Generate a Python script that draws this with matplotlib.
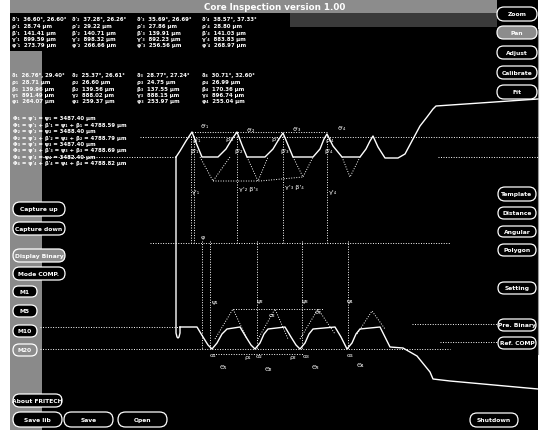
import matplotlib
matplotlib.use("Agg")
import matplotlib.pyplot as plt
from matplotlib.patches import FancyBboxPatch, Rectangle

# ---------------- data ----------------
title = "Core Inspection version 1.00"

# measured profile (screen coordinates of the inspection view)
upper_x = [176, 180, 186, 192, 197, 202, 218, 226, 232, 237, 242, 247, 265, 273, 279, 283, 288, 293, 313, 320, 324, 327, 333, 342, 360, 366, 370, 373, 378, 385, 398, 405, 413, 420, 427, 433, 436, 480, 538]
upper_y = [158, 152, 142, 133, 146, 158, 158, 150, 140, 133, 146, 158, 158, 150, 140, 134, 146, 158, 158, 150, 140, 135, 147, 158, 158, 150, 142, 137, 148, 159, 159, 155, 140, 127, 118, 110, 107, 104, 100]
wall_x = [176, 176, 177, 178, 179, 180, 180]
wall_y = [158, 334, 338, 339, 338, 334, 328]
lower_x = [180, 197, 203, 208, 212, 217, 222, 227, 240, 246, 251, 255, 260, 264, 268, 285, 291, 296, 300, 305, 309, 313, 335, 341, 345, 347, 352, 356, 360, 380, 386, 390, 403, 417, 430, 433, 450, 538]
lower_y = [328, 328, 338, 346, 350, 344, 335, 330, 328, 338, 346, 350, 344, 335, 330, 328, 338, 346, 350, 344, 335, 330, 328, 338, 346, 350, 344, 335, 330, 328, 340, 348, 349, 357, 373, 380, 382, 390]

# dotted construction lines: (x list, y list)
hlines = [
    ([140, 538], [138, 138]),
    ([192, 327], [133, 133]),
    ([43, 176], [158, 158]),
    ([438, 538], [158, 158]),
    ([213, 260, 303], [182, 182, 178]),
    ([150, 450], [244, 244]),
    ([40, 180], [328, 328]),
    ([412, 498], [325, 325]),
    ([40, 450], [350, 350]),
    ([440, 498], [343, 343]),
    ([233, 323], [310, 310]),
    ([213, 303], [355, 355]),
]
vee_x = [[200, 213, 230], [247, 258, 268], [293, 303, 313], [342, 350, 360],
         [215, 233, 247], [258, 275, 288], [300, 318, 335], [357, 372, 385]]
vee_y = [[158, 182, 158], [158, 182, 158], [158, 178, 158], [158, 178, 158],
         [340, 310, 340], [340, 310, 340], [340, 310, 335], [335, 312, 330]]
vert_upper_x = [191, 194, 237, 283, 327]
vert_upper_y = [137, 244]
vert_lower_x = [202, 210, 257, 302, 348]
vert_lower_y = [242, 350]

block1 = [
    ["ϑ'₁  36.60°, 26.60°", "ρ'₁  28.74 µm", "β'₁  141.41 µm", "γ'₁  899.59 µm", "φ'₁  273.79 µm"],
    ["ϑ'₂  37.28°, 26.26°", "ρ'₂  29.22 µm", "β'₂  140.71 µm", "γ'₂  898.32 µm", "φ'₂  266.66 µm"],
    ["ϑ'₃  35.69°, 26.69°", "ρ'₃  27.86 µm", "β'₃  139.91 µm", "γ'₃  892.23 µm", "φ'₃  256.56 µm"],
    ["ϑ'₄  38.57°, 37.33°", "ρ'₄  28.80 µm", "β'₄  141.03 µm", "γ'₄  883.83 µm", "φ'₄  268.97 µm"],
]
block2 = [
    ["ϑ₁  26.76°, 29.40°", "ρ₁  28.71 µm", "β₁  139.96 µm", "γ₁  891.49 µm", "φ₁  264.07 µm"],
    ["ϑ₂  25.37°, 26.61°", "ρ₂  26.60 µm", "β₂  139.56 µm", "γ₂  888.02 µm", "φ₂  259.37 µm"],
    ["ϑ₃  28.77°, 27.24°", "ρ₃  24.75 µm", "β₃  137.55 µm", "γ₃  888.15 µm", "φ₃  253.97 µm"],
    ["ϑ₄  30.71°, 32.60°", "ρ₄  26.99 µm", "β₄  170.36 µm", "γ₄  896.74 µm", "φ₄  255.04 µm"],
]
formulas = [
    "Φ₁ = ψ'₁ = ψ₁ = 3487.40 µm",
    "Φ₁ = ψ'₁ + β'₁ = ψ₁ + β₁ = 4788.59 µm",
    "Φ₂ = ψ'₂ = ψ₂ = 3488.40 µm",
    "Φ₂ = ψ'₂ + β'₂ = ψ₂ + β₂ = 4788.79 µm",
    "Φ₃ = ψ'₃ = ψ₃ = 3487.40 µm",
    "Φ₃ = ψ'₃ + β'₃ = ψ₃ + β₃ = 4788.69 µm",
    "Φ₄ = ψ'₄ = ψ₄ = 3482.40 µm",
    "Φ₄ = ψ'₄ + β'₄ = ψ₄ + β₄ = 4788.82 µm",
]

# buttons: label, x0, y0, x1, y1, highlighted
buttons = [
    ("Zoom", 497, 8, 537, 22, False),
    ("Pan", 497, 27, 537, 40, True),
    ("Adjust", 497, 47, 537, 60, False),
    ("Calibrate", 497, 67, 537, 80, False),
    ("Fit", 497, 86, 537, 100, False),
    ("Template", 498, 188, 536, 202, False),
    ("Distance", 498, 208, 536, 220, False),
    ("Angular", 498, 227, 536, 238, False),
    ("Polygon", 498, 245, 536, 257, False),
    ("Setting", 498, 283, 536, 295, False),
    ("Pre. Binary", 498, 320, 536, 332, False),
    ("Ref. COMP", 498, 338, 536, 350, False),
    ("Shutdown", 470, 414, 518, 428, False),
    ("Capture up", 13, 203, 65, 217, False),
    ("Capture down", 13, 223, 65, 236, False),
    ("Display Binary", 13, 250, 65, 263, True),
    ("Mode COMP.", 13, 268, 65, 281, False),
    ("M1", 13, 287, 37, 298, False),
    ("M5", 13, 306, 37, 318, False),
    ("M10", 13, 326, 37, 338, False),
    ("M20", 13, 345, 37, 357, True),
    ("About FRITECH", 13, 395, 62, 408, False),
    ("Save lib", 13, 413, 62, 428, False),
    ("Save", 64, 413, 113, 428, False),
    ("Open", 118, 413, 167, 428, False),
]

labels = [
    ("ϑ'₁", 205, 127), ("ϑ'₂", 251, 131), ("ϑ'₃", 297, 130), ("ϑ'₄", 342, 129),
    ("ρ'₁", 197, 141), ("ρ'₂", 230, 140), ("ρ'₃", 276, 140), ("ρ'₄", 330, 141),
    ("β'₁", 195, 152), ("β'₂", 239, 152), ("β'₃", 285, 152), ("β'₄", 329, 152),
    ("γ'₁", 196, 193), ("γ'₂ β'₃", 248, 190), ("γ'₃ β'₄", 294, 188), ("γ'₄", 333, 193),
    ("φ", 203, 238),
    ("ψ₁", 215, 303), ("ψ₂", 260, 302), ("ψ₃", 305, 302), ("ψ₄", 350, 302),
    ("σ₂", 272, 316), ("σ₃", 318, 313),
    ("α₁", 213, 356), ("α₂", 259, 357), ("α₃", 306, 357), ("α₄", 350, 356),
    ("ρ₁", 248, 358), ("ρ₂", 293, 358),
    ("Θ₁", 223, 368), ("Θ₂", 268, 370), ("Θ₃", 315, 368), ("Θ₄", 360, 366),
]

# ---------------- drawing ----------------
W, H = 542, 431
fig = plt.figure(figsize=(W / 100, H / 100), dpi=100, facecolor="white")
ax = fig.add_axes([0, 0, 1, 1])
ax.set_xlim(0, W)
ax.set_ylim(H, 0)
ax.axis("off")

ax.add_patch(Rectangle((10, 0), 528, H, facecolor="black", edgecolor="none", zorder=0))
ax.add_patch(Rectangle((10, 0), 487, 14, facecolor="#8c8c8c", edgecolor="none", zorder=0.5))
ax.add_patch(Rectangle((290, 14), 207, 14, facecolor="#3a3a3a", edgecolor="none", zorder=0.5))
ax.add_patch(Rectangle((10, 52), 32, H - 52, facecolor="#8a8a8a", edgecolor="none", zorder=0.5))
ax.plot([538, 538], [30, 355], color="#9a9a9a", lw=0.8, zorder=1)

ax.text(275, 7, title, color="white", fontsize=6.3, fontweight="bold",
        ha="center", va="center", zorder=5)

dot = dict(color="white", lw=0.7, ls=(0, (1, 1.6)), zorder=2)
for xs, ys in hlines:
    ax.plot(xs, ys, **dot)
for xs, ys in zip(vee_x, vee_y):
    ax.plot(xs, ys, **dot)
for x in vert_upper_x:
    ax.plot([x, x], vert_upper_y, **dot)
for x in vert_lower_x:
    ax.plot([x, x], vert_lower_y, **dot)

prof = dict(color="white", lw=1.0, zorder=3, solid_joinstyle="round")
ax.plot(upper_x, upper_y, **prof)
ax.plot(wall_x, wall_y, **prof)
ax.plot(lower_x, lower_y, **prof)

col_x = [12, 72, 137, 202]
rows1 = [20, 26.5, 33, 39.5, 46]
rows2 = [76, 82.5, 89, 95.5, 102]
tf = dict(color="white", fontsize=3.9, fontweight="bold", ha="left", va="center", zorder=5)
for cx, col in zip(col_x, block1):
    for ry, s in zip(rows1, col):
        ax.text(cx, ry, s, **tf)
for cx, col in zip(col_x, block2):
    for ry, s in zip(rows2, col):
        ax.text(cx, ry, s, **tf)
for i, s in enumerate(formulas):
    ax.text(13, 119 + i * 6.4, s, **tf)

for name, x0, y0, x1, y1, hl in buttons:
    h = y1 - y0
    ax.add_patch(FancyBboxPatch((x0, y0), x1 - x0, h,
                                boxstyle="round,pad=0,rounding_size=%.1f" % (h / 2),
                                facecolor="#8c8c8c" if hl else "black",
                                edgecolor="white", lw=0.9, zorder=4))
    ax.text((x0 + x1) / 2, (y0 + y1) / 2, name, color="white", fontsize=4.3,
            fontweight="bold", ha="center", va="center", zorder=5)

for s, x, y in labels:
    ax.text(x, y, s, color="white", fontsize=4.6, ha="center", va="center", zorder=5)

fig.savefig("out.png", dpi=100, facecolor="white")
